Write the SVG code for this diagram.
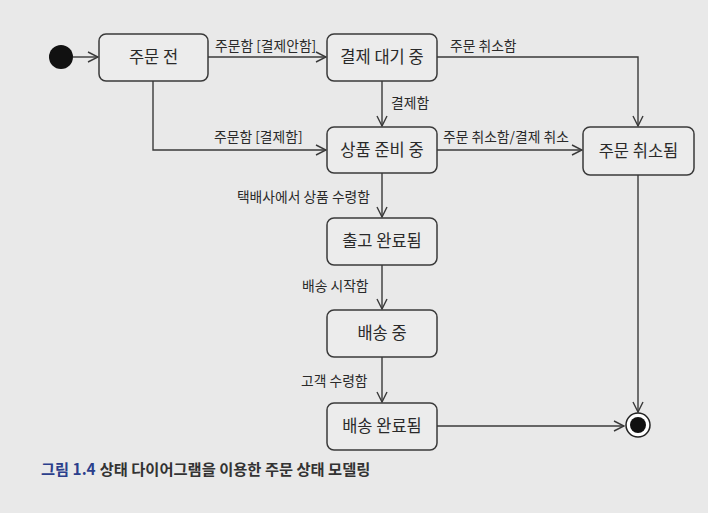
<svg xmlns="http://www.w3.org/2000/svg" width="708" height="513" viewBox="0 0 708 513">
<style>
.box{fill:#ececec;stroke:#3a3a3a;stroke-width:1.5}
.nt{font-family:"Noto Sans CJK KR","Noto Sans",sans-serif;font-size:16.5px;fill:#2a2a2a;text-anchor:middle}
.lb{font-family:"Noto Sans CJK KR","Noto Sans",sans-serif;font-size:13.8px;fill:#2a2a2a}
.ln{fill:none;stroke:#3a3a3a;stroke-width:1.4}
</style>
<defs>
<marker id="ar" viewBox="0 0 12 12" refX="11" refY="6" markerWidth="12" markerHeight="12" markerUnits="userSpaceOnUse" orient="auto">
<path d="M1,1 L11,6 L1,11" fill="none" stroke="#3a3a3a" stroke-width="1.4"/>
</marker>
</defs>
<rect width="708" height="513" fill="#e9e9e9"/>
<g id="connectors">
<path class="ln" d="M73,57 H98" marker-end="url(#ar)"/>
<path class="ln" d="M208,57 H326" marker-end="url(#ar)"/>
<path class="ln" d="M437,57 H638 V126" marker-end="url(#ar)"/>
<path class="ln" d="M382,81 V126" marker-end="url(#ar)"/>
<path class="ln" d="M153,81 V150 H326" marker-end="url(#ar)"/>
<path class="ln" d="M437,150 H582" marker-end="url(#ar)"/>
<path class="ln" d="M382,173 V217" marker-end="url(#ar)"/>
<path class="ln" d="M382,265 V309" marker-end="url(#ar)"/>
<path class="ln" d="M382,357 V402" marker-end="url(#ar)"/>
<path class="ln" d="M437,426 H624" marker-end="url(#ar)"/>
<path class="ln" d="M638,175 V412" marker-end="url(#ar)"/>
<text class="lb" x="215" y="51">주문함 [결제안함]</text>
<text class="lb" x="450" y="51">주문 취소함</text>
<text class="lb" x="391" y="108">결제함</text>
<text class="lb" x="214" y="142">주문함 [결제함]</text>
<text class="lb" x="443" y="142">주문 취소함/결제 취소</text>
<text class="lb" x="370" y="202" text-anchor="end">택배사에서 상품 수령함</text>
<text class="lb" x="302" y="291">배송 시작함</text>
<text class="lb" x="301" y="386">고객 수령함</text>
</g>
<g id="start"><circle cx="61" cy="57" r="12" fill="#111"/></g>
<g id="n1"><rect class="box" x="99" y="34" width="109" height="47" rx="7"/><text class="nt" x="153.5" y="63">주문 전</text></g>
<g id="n2"><rect class="box" x="327" y="34" width="110" height="47" rx="7"/><text class="nt" x="382" y="63">결제 대기 중</text></g>
<g id="n3"><rect class="box" x="327" y="127" width="110" height="46" rx="7"/><text class="nt" x="382" y="156">상품 준비 중</text></g>
<g id="n4"><rect class="box" x="583" y="127" width="111" height="48" rx="7"/><text class="nt" x="638.5" y="157">주문 취소됨</text></g>
<g id="n5"><rect class="box" x="327" y="218" width="110" height="47" rx="7"/><text class="nt" x="382" y="247">출고 완료됨</text></g>
<g id="n6"><rect class="box" x="327" y="310" width="110" height="47" rx="7"/><text class="nt" x="382" y="339">배송 중</text></g>
<g id="n7"><rect class="box" x="327" y="403" width="110" height="47" rx="7"/><text class="nt" x="382" y="432">배송 완료됨</text></g>
<g id="end"><circle cx="638" cy="425" r="12" fill="#fff" stroke="#222" stroke-width="1.5"/><circle cx="638" cy="425" r="8" fill="#111"/></g>
<text x="41" y="475" font-family="Noto Sans CJK KR,Noto Sans,sans-serif" font-size="15.3" font-weight="bold"><tspan fill="#2b3f8c">그림 1.4</tspan><tspan fill="#333" dx="4">상태 다이어그램을 이용한 주문 상태 모델링</tspan></text>
</svg>
